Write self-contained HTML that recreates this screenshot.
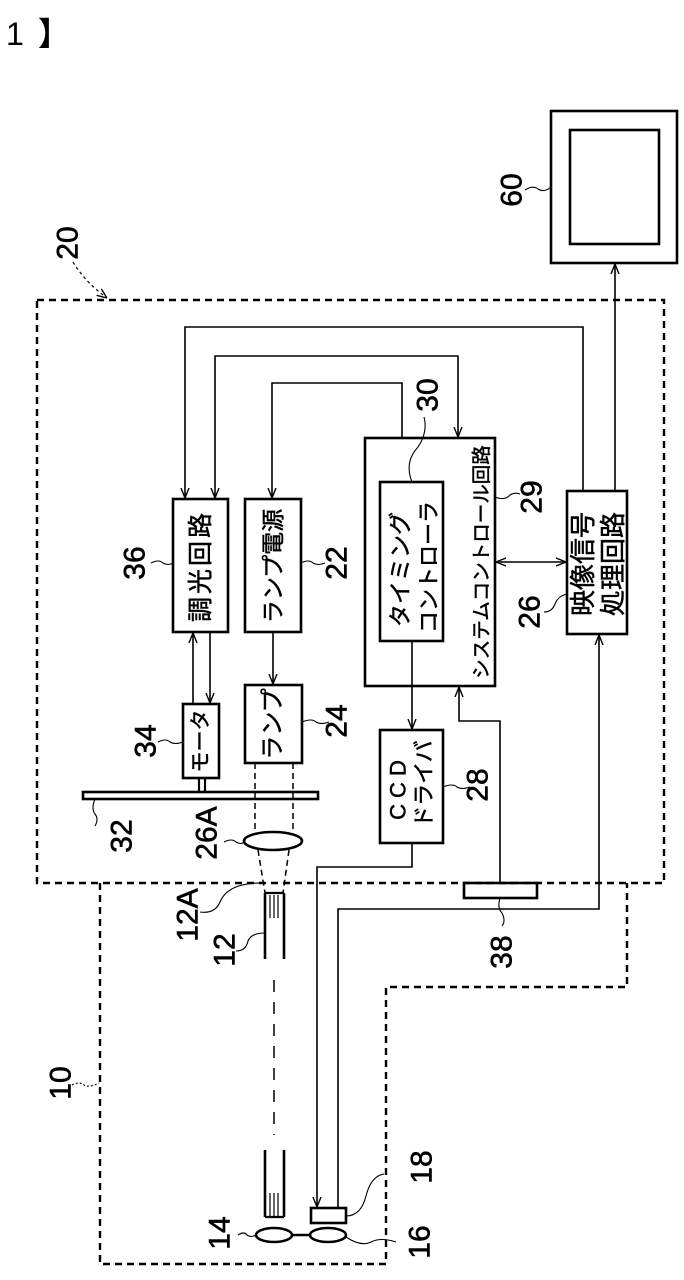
<!DOCTYPE html>
<html><head><meta charset="utf-8"><style>
html,body{margin:0;padding:0;background:#fff;}
svg{display:block;}
text{font-family:"Liberation Sans","Noto Sans CJK JP",sans-serif;fill:#000;}
</style></head><body>
<svg width="684" height="1280" viewBox="0 0 684 1280" xmlns="http://www.w3.org/2000/svg">
<defs>
<marker id="a" viewBox="0 0 10 10" refX="10" refY="5" markerWidth="10" markerHeight="10" orient="auto-start-reverse" markerUnits="userSpaceOnUse">
<path d="M0,1 L10,5 L0,9" fill="none" stroke="#000" stroke-width="1.4"/>
</marker>
</defs>
<text x="6" y="45" font-size="32">1</text>
<text x="38" y="45" font-size="32" font-weight="bold">】</text>

<g fill="none" stroke="#000" stroke-width="2.4" stroke-dasharray="7,5">
<rect x="37" y="300" width="627" height="583"/>
<polyline points="100,883 100,1264 386,1264 386,987 627,987 627,883"/>
</g>
<path d="M73,262 Q85,282 107,298" fill="none" stroke="#000" stroke-width="1.2" stroke-dasharray="3,3" marker-end="url(#a)"/>

<g fill="none" stroke="#000" stroke-width="2.6">
<rect x="551" y="111" width="126" height="152"/>
<rect x="570" y="130" width="89" height="114"/>
<rect x="567" y="491" width="60" height="143"/>
<rect x="365" y="438" width="130" height="248"/>
<rect x="380" y="482" width="63" height="159"/>
<rect x="173" y="499" width="55" height="133"/>
<rect x="245" y="499" width="56" height="133"/>
<rect x="183" y="704" width="36" height="74"/>
<rect x="245" y="685" width="57" height="78"/>
<rect x="83" y="792" width="235" height="7"/>
<rect x="380" y="730" width="63" height="113"/>
<rect x="464" y="883" width="73" height="15"/>
<rect x="311" y="1208" width="35" height="15"/>
<ellipse cx="273" cy="841" rx="29" ry="9"/>
<ellipse cx="274" cy="1235" rx="18" ry="7"/>
<ellipse cx="328" cy="1235" rx="18" ry="7"/>
</g>
<line x1="292" y1="1235" x2="310" y2="1235" stroke="#000" stroke-width="2.4"/>

<g fill="none" stroke="#000" stroke-width="1.6">
<line x1="615" y1="491" x2="615" y2="264" marker-end="url(#a)"/>
<polyline points="583,491 583,327 185,327 185,498" marker-end="url(#a)"/>
<polyline points="215,498 215,356 458,356 458,437" marker-start="url(#a)" marker-end="url(#a)"/>
<polyline points="402,438 402,383 272,383 272,498" marker-end="url(#a)"/>
<line x1="496" y1="562" x2="566" y2="562" marker-start="url(#a)" marker-end="url(#a)"/>
<line x1="193" y1="704" x2="193" y2="633" marker-end="url(#a)"/>
<line x1="210" y1="633" x2="210" y2="703" marker-end="url(#a)"/>
<line x1="273" y1="633" x2="273" y2="684" marker-end="url(#a)"/>
<line x1="412" y1="641" x2="412" y2="729" marker-end="url(#a)"/>
<polyline points="500,883 500,721 459,721 459,687" marker-end="url(#a)"/>
<polyline points="338,1208 338,909 599,909 599,635" marker-end="url(#a)"/>
<polyline points="412,843 412,867 317,867 317,1207" marker-end="url(#a)"/>
<line x1="199" y1="778" x2="199" y2="792" stroke-width="2.2"/>
<line x1="205" y1="778" x2="205" y2="792" stroke-width="2.2"/>
</g>

<g fill="none" stroke="#000" stroke-width="1.5" stroke-dasharray="6,4">
<line x1="255" y1="763" x2="255" y2="832"/>
<line x1="293" y1="763" x2="293" y2="832"/>
<line x1="258" y1="850" x2="265" y2="893"/>
<line x1="289" y1="850" x2="283" y2="893"/>
<line x1="274" y1="980" x2="274" y2="1135" stroke-dasharray="12,10"/>
</g>

<g stroke="#000" fill="none">
<line x1="265" y1="893" x2="265" y2="959" stroke-width="2.6"/>
<line x1="284" y1="893" x2="284" y2="959" stroke-width="2.6"/>
<line x1="265" y1="893" x2="284" y2="893" stroke-width="2.2"/>
<line x1="270" y1="895" x2="270" y2="918" stroke-width="1.2"/>
<line x1="274" y1="895" x2="274" y2="918" stroke-width="1.2"/>
<line x1="278" y1="895" x2="278" y2="918" stroke-width="1.2"/>
<line x1="265" y1="1150" x2="265" y2="1217" stroke-width="2.6"/>
<line x1="284" y1="1150" x2="284" y2="1217" stroke-width="2.6"/>
<line x1="265" y1="1217" x2="284" y2="1217" stroke-width="2.2"/>
<line x1="270" y1="1193" x2="270" y2="1216" stroke-width="1.2"/>
<line x1="274" y1="1193" x2="274" y2="1216" stroke-width="1.2"/>
<line x1="278" y1="1193" x2="278" y2="1216" stroke-width="1.2"/>
</g>

<g fill="none" stroke="#000" stroke-width="1.1">
<path d="M525,190 q8,-5 13,-1 q6,4 13,-2"/>
<path d="M151,563 q8,-4 12,0 q5,3 10,0"/>
<path d="M301,563 q8,-4 12,0 q5,3 12,0"/>
<path d="M412,482 q-8,-20 6,-35 q10,-15 6,-30"/>
<path d="M495,497 q10,4 15,-2 q5,-3 10,-1"/>
<path d="M544,612 q8,0 11,-8 q3,-8 12,-10"/>
<path d="M158,742 q8,-4 12,0 q5,3 13,0"/>
<path d="M302,722 q10,-4 14,0 q5,3 13,0"/>
<path d="M443,787 q10,-4 14,0 q5,3 13,0"/>
<path d="M95,799 q-4,10 0,15 q4,5 0,12"/>
<path d="M224,842 q8,-4 12,0 q5,3 8,0"/>
<path d="M200,912 q15,2 20,-10 q8,-20 45,-19"/>
<path d="M236,951 q10,0 12,-10 q3,-8 17,-8"/>
<path d="M500,898 q-3,10 2,15 q4,8 0,13"/>
<path d="M346,1216 q15,0 20,-20 q5,-20 18,-22"/>
<path d="M238,1235 q6,-4 9,0 q4,3 9,0"/>
<path d="M346,1237 q15,10 25,5 q10,-5 25,0"/>
<path d="M72,1085 q8,-4 12,0 q5,3 15,-2" stroke-dasharray="2,2"/>
</g>

<g font-size="30" dominant-baseline="central" stroke="#000" stroke-width="0.6">
<text transform="translate(512,190) rotate(-90)" text-anchor="middle">60</text>
<text transform="translate(68,243) rotate(-90)" text-anchor="middle">20</text>
<text transform="translate(135,563) rotate(-90)" text-anchor="middle">36</text>
<text transform="translate(337,563) rotate(-90)" text-anchor="middle">22</text>
<text transform="translate(428,395) rotate(-90)" text-anchor="middle">30</text>
<text transform="translate(532,497) rotate(-90)" text-anchor="middle">29</text>
<text transform="translate(530,612) rotate(-90)" text-anchor="middle">26</text>
<text transform="translate(146,741) rotate(-90)" text-anchor="middle">34</text>
<text transform="translate(337,721) rotate(-90)" text-anchor="middle">24</text>
<text transform="translate(478,785) rotate(-90)" text-anchor="middle">28</text>
<text transform="translate(122,836) rotate(-90)" text-anchor="middle">32</text>
<text transform="translate(207,833) rotate(-90)" text-anchor="middle">26A</text>
<text transform="translate(188,915) rotate(-90)" text-anchor="middle">12A</text>
<text transform="translate(225,950) rotate(-90)" text-anchor="middle">12</text>
<text transform="translate(502,952) rotate(-90)" text-anchor="middle">38</text>
<text transform="translate(61,1083) rotate(-90)" text-anchor="middle">10</text>
<text transform="translate(422,1167) rotate(-90)" text-anchor="middle">18</text>
<text transform="translate(220,1233) rotate(-90)" text-anchor="middle">14</text>
<text transform="translate(420,1242) rotate(-90)" text-anchor="middle">16</text>
</g>

<g dominant-baseline="central" stroke="#000" stroke-width="0.5">
<text transform="translate(201,566) rotate(-90)" text-anchor="middle" font-size="25" letter-spacing="3">調光回路</text>
<text transform="translate(273,566) rotate(-90)" text-anchor="middle" font-size="23">ランプ電源</text>
<text transform="translate(583,564) rotate(-90)" text-anchor="middle" font-size="26">映像信号</text>
<text transform="translate(613,564) rotate(-90)" text-anchor="middle" font-size="26">処理回路</text>
<text transform="translate(400,627) rotate(-90)" text-anchor="start" font-size="23">タイミング</text>
<text transform="translate(429,633) rotate(-90)" text-anchor="start" font-size="22">コントローラ</text>
<text transform="translate(482,562) rotate(-90)" text-anchor="middle" font-size="19.5">システムコントロール回路</text>
<text transform="translate(201,741) rotate(-90)" text-anchor="middle" font-size="21">モータ</text>
<text transform="translate(273,724) rotate(-90)" text-anchor="middle" font-size="24">ランプ</text>
<text transform="translate(398,787) rotate(-90)" text-anchor="middle" font-size="22" letter-spacing="6">CCD</text>
<text transform="translate(424,784) rotate(-90)" text-anchor="middle" font-size="22">ドライバ</text>
</g>
</svg>
</body></html>
